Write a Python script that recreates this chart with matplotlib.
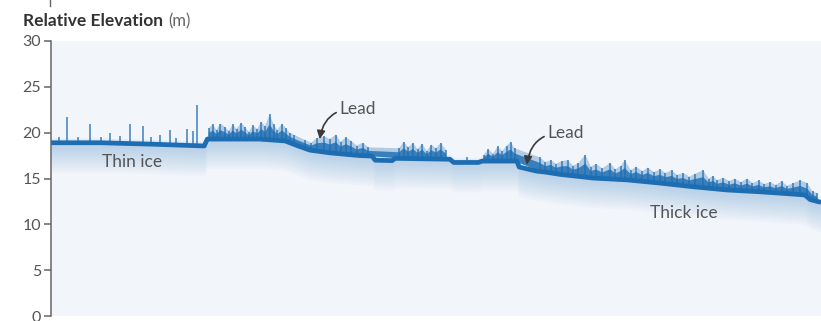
import matplotlib
matplotlib.use("Agg")
import matplotlib.pyplot as plt
from matplotlib.lines import Line2D
import numpy as np

plt.rcParams['font.family'] = ['Lato', 'DejaVu Sans']

# Along-track position (percent of track) and surface elevation (m)
surf_x = [0, 6.4, 12.9, 18.1, 19.9, 20.3, 23.3, 27.1, 30.4, 32.1, 33.6, 36.2,
          40.1, 41.7, 42.1, 44.3, 44.7, 51.8, 52.3, 55.5, 56.0, 60.5, 60.8,
          63.1, 64.2, 66.1, 70.4, 74.8, 79.1, 83.4, 87.8, 92.1, 96.4, 97.9,
          98.6, 100]
surf_z = [18.9, 18.9, 18.75, 18.6, 18.55, 19.3, 19.3, 19.3, 19.1, 18.55, 18.1,
          17.8, 17.5, 17.45, 17.0, 16.95, 17.2, 17.1, 16.75, 16.75, 16.9, 16.9,
          16.25, 15.8, 15.7, 15.45, 15.05, 14.85, 14.5, 14.1, 13.75, 13.55,
          13.3, 13.2, 12.7, 12.4]

# Pressure ridges: position, base and crest elevation (m)
ridge_x = [1.0, 2.1, 3.5, 5.1, 6.5, 7.7, 9.0, 10.3, 11.9, 13.0, 14.2, 15.5,
           16.2, 17.7, 18.4, 19.0,
           20.5, 21.0, 21.5, 22.0, 22.6, 23.1, 23.6, 24.1, 24.7, 25.2, 25.7,
           26.2, 26.8, 27.3, 27.8, 28.4, 28.9, 29.4, 30.0, 30.5, 31.0, 31.5,
           33.0, 33.8, 34.5, 35.5, 36.2, 37.0, 37.6, 38.3, 39.0, 39.7, 40.5,
           41.2,
           45.2, 45.8, 46.4, 47.0, 47.6, 48.2, 48.8, 49.4, 50.0, 50.6, 51.3,
           54.0, 56.2, 56.8, 57.4, 58.0, 58.6, 59.2, 59.7, 60.2,
           63.5, 64.2, 64.9, 65.6, 66.3, 67.1, 67.8, 68.5, 69.4, 70.1, 70.8,
           71.6, 72.6, 73.3, 74.0, 74.5, 75.3, 76.0, 76.8, 77.5, 78.3, 79.1,
           79.8, 80.6, 81.3, 82.1, 82.9, 83.6, 84.7, 85.4, 86.0, 86.5, 87.3,
           88.1, 88.8, 89.6, 90.4, 91.1, 91.9, 92.6, 93.4, 94.1, 94.9, 95.6,
           96.4, 97.3, 98.2, 98.9, 99.5]
ridge_lo = [18.9, 18.9, 18.9, 18.9, 18.9, 18.85, 18.8, 18.8, 18.75, 18.75,
            18.7, 18.65, 18.65, 18.6, 18.6, 18.6,
            19.2, 19.2, 19.2, 19.2, 19.2, 19.2, 19.2, 19.2, 19.2, 19.2, 19.2,
            19.2, 19.2, 19.2, 19.2, 19.2, 19.2, 19.2, 19.1, 19.0, 18.9, 18.7,
            18.3, 18.1, 18.0, 17.9, 17.8, 17.7, 17.7, 17.6, 17.6, 17.5, 17.5,
            17.45,
            17.2, 17.2, 17.2, 17.2, 17.2, 17.15, 17.15, 17.15, 17.1, 17.1, 17.1,
            16.75, 16.9, 16.9, 16.9, 16.9, 16.9, 16.9, 16.9, 16.9,
            15.8, 15.7, 15.7, 15.5, 15.45, 15.4, 15.3, 15.25, 15.15, 15.1, 15.05,
            15.0, 14.95, 14.9, 14.9, 14.85, 14.85, 14.8, 14.75, 14.7, 14.6, 14.5,
            14.45, 14.35, 14.3, 14.2, 14.15, 14.1, 14.0, 13.95, 13.9, 13.85, 13.8,
            13.75, 13.7, 13.65, 13.6, 13.6, 13.55, 13.5, 13.45, 13.4, 13.4, 13.35,
            13.3, 13.25, 13.0, 12.6, 12.45]
ridge_hi = [19.5, 21.7, 19.5, 20.9, 19.5, 20.0, 19.6, 20.9, 20.7, 19.5, 19.8,
            20.3, 19.4, 20.4, 20.2, 23.0,
            20.5, 20.9, 20.3, 21.0, 20.6, 20.2, 20.9, 20.4, 21.1, 20.6, 20.1,
            20.8, 20.4, 21.2, 20.7, 22.0, 20.9, 20.3, 21.0, 20.5, 20.0, 19.8,
            19.2, 18.9, 19.4, 19.6, 19.3, 19.8, 19.0, 19.5, 19.1, 18.6, 18.9,
            18.4,
            18.3, 19.0, 18.4, 18.9, 18.2, 18.8, 18.0, 18.7, 18.3, 18.9, 18.1,
            17.3, 17.6, 18.2, 17.7, 18.5, 18.0, 18.6, 19.0, 18.3,
            17.3, 16.8, 17.0, 16.6, 16.9, 17.0, 16.4, 16.7, 17.6, 16.3, 16.6,
            16.1, 16.7, 16.0, 16.4, 17.0, 15.9, 16.3, 15.8, 16.2, 15.7, 16.0,
            15.6, 15.9, 15.4, 15.6, 15.2, 15.5, 15.9, 15.0, 15.3, 14.8, 15.1,
            14.7, 15.0, 14.6, 15.0, 14.5, 14.8, 14.4, 14.6, 14.3, 14.7, 14.2,
            14.5, 14.8, 14.5, 13.6, 13.4]

y_ticks = [0, 5, 10, 15, 20, 25, 30]

ICE_BLUE = '#1c6db2'
HAZE_BLUE = '#6fa6d8'
TEXT_GREY = '#555555'
AXIS_GREY = '#666666'

fig = plt.figure(figsize=(8.21, 3.21), dpi=100)
ax = fig.add_axes([51 / 821, 1 - 316 / 321, 770 / 821, 275 / 321])
ax.set_facecolor('#f2f5fa')

sx = np.asarray(surf_x)
sz = np.asarray(surf_z)
rx = np.asarray(ridge_x)
rlo = np.asarray(ridge_lo)
rhi = np.asarray(ridge_hi)

# Faint photon haze hanging beneath the surface return
depths = np.linspace(0.2, 3.2, 12)
for d in depths:
    ax.fill_between(sx, sz - d, sz, color=HAZE_BLUE, alpha=0.045, lw=0)
ax.fill_between(sx, sz, sz + 0.5, color=HAZE_BLUE, alpha=0.12, lw=0)

# Rubble band across the densely ridged stretches
gap = np.diff(rx)
dense = np.zeros(len(rx), dtype=bool)
dense[:-1] |= gap < 1.1
dense[1:] |= gap < 1.1
dense &= rx > 20
ax.fill_between(rx, rlo, rlo + (rhi - rlo) * 0.6, where=dense,
                color=ICE_BLUE, alpha=0.8, lw=0)
ax.fill_between(rx, rlo, rhi, where=dense, color=ICE_BLUE, alpha=0.3, lw=0)

# Ridge crests and the surface line
ax.vlines(rx, rlo, rhi, color=ICE_BLUE, lw=1.1, alpha=0.85)
ax.plot(sx, sz, color=ICE_BLUE, lw=3.4, solid_joinstyle='round',
        solid_capstyle='butt')

ax.set_xlim(0, 100)
ax.set_ylim(0, 30)
ax.set_yticks(y_ticks)
ax.set_xticks([])
for side in ('top', 'right', 'bottom'):
    ax.spines[side].set_visible(False)
ax.spines['left'].set_color(AXIS_GREY)
ax.spines['left'].set_linewidth(1.1)
ax.tick_params(axis='y', length=5, width=1.1, color=AXIS_GREY,
               labelcolor=TEXT_GREY, labelsize=11.5, pad=2)

# Labels
ax.text(10.5, 16.8, 'Thin ice', color=TEXT_GREY, fontsize=12.5,
        ha='center', va='center')
ax.text(82.2, 11.2, 'Thick ice', color=TEXT_GREY, fontsize=12.5,
        ha='center', va='center')

arrow = dict(arrowstyle='-|>', color='#3a3a3a', lw=1.2,
             mutation_scale=12, shrinkA=0, shrinkB=0)
ax.annotate('Lead', xy=(34.9, 19.3), xytext=(37.4, 22.6),
            color=TEXT_GREY, fontsize=12.5, ha='left', va='center',
            arrowprops=dict(arrow, connectionstyle='arc3,rad=0.45'))
ax.annotate('Lead', xy=(61.8, 16.5), xytext=(64.4, 20.0),
            color=TEXT_GREY, fontsize=12.5, ha='left', va='center',
            arrowprops=dict(arrow, connectionstyle='arc3,rad=0.45'))

# Title: bold name followed by the unit
t = fig.text(23 / 821, 1 - 26 / 321, 'Relative Elevation', fontsize=12.5,
             fontweight='bold', color='#333333', ha='left', va='baseline')
fig.canvas.draw()
bb = t.get_window_extent(fig.canvas.get_renderer())
fig.text((bb.x1 + 5) / 821, 1 - 26 / 321, '(m)', fontsize=12,
         color='#666666', ha='left', va='baseline')

fig.add_artist(Line2D([50 / 821, 50 / 821], [1.0, 1 - 6 / 321],
                      color=AXIS_GREY, lw=1.0))

fig.savefig('out.png', dpi=100)
